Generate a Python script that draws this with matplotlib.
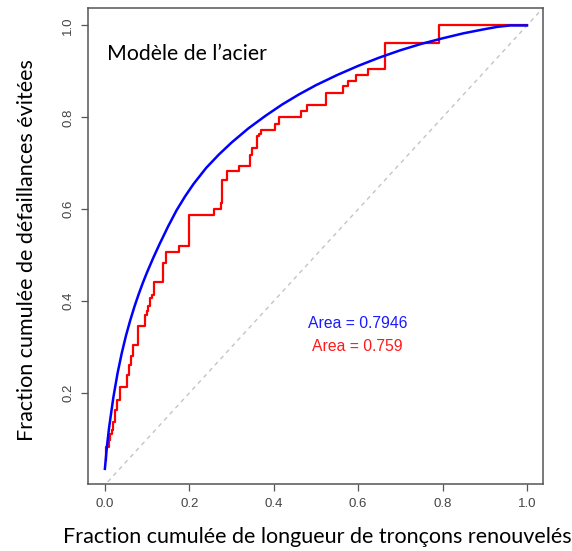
import matplotlib
matplotlib.use("Agg")
import matplotlib.pyplot as plt

# Blue curve (model curve)
blue_x = [0.0, 0.002, 0.005, 0.01, 0.02, 0.03, 0.04, 0.05, 0.06, 0.07, 0.08, 0.09,
          0.10, 0.115, 0.13, 0.15, 0.17, 0.19, 0.21, 0.24, 0.27, 0.30, 0.34, 0.38,
          0.42, 0.46, 0.50, 0.55, 0.60, 0.65, 0.70, 0.75, 0.80, 0.85, 0.90, 0.93,
          0.96, 1.0]
blue_y = [0.035, 0.055, 0.085, 0.125, 0.19, 0.243, 0.287, 0.325, 0.358, 0.388, 0.415, 0.44,
          0.463, 0.495, 0.525, 0.563, 0.598, 0.628, 0.655, 0.690, 0.719, 0.745, 0.776, 0.803,
          0.828, 0.850, 0.870, 0.892, 0.912, 0.930, 0.946, 0.960, 0.972, 0.983, 0.992, 0.997,
          1.0, 1.0]

# Red step curve (observed), jump positions and levels after each jump
red_x = [0.002, 0.003, 0.010, 0.013, 0.016, 0.020, 0.024, 0.028, 0.036, 0.052,
         0.058, 0.062, 0.066, 0.078, 0.095, 0.099, 0.103, 0.107, 0.112, 0.116,
         0.137, 0.144, 0.176, 0.200, 0.258, 0.276, 0.278, 0.290, 0.318, 0.344,
         0.348, 0.361, 0.366, 0.369, 0.403, 0.413, 0.464, 0.479, 0.524, 0.563,
         0.575, 0.596, 0.624, 0.664, 0.792, 1.000]
red_y = [0.055, 0.083, 0.098, 0.110, 0.120, 0.138, 0.162, 0.185, 0.214, 0.240,
         0.262, 0.280, 0.305, 0.345, 0.370, 0.378, 0.389, 0.407, 0.414, 0.441,
         0.483, 0.507, 0.521, 0.588, 0.601, 0.614, 0.664, 0.683, 0.695, 0.719,
         0.733, 0.759, 0.763, 0.772, 0.786, 0.800, 0.813, 0.826, 0.853, 0.868,
         0.880, 0.893, 0.906, 0.961, 1.000, 1.000]

x_ticks = [0.0, 0.2, 0.4, 0.6, 0.8, 1.0]
y_ticks = [0.2, 0.4, 0.6, 0.8, 1.0]
blue_area = "Area = 0.7946"
red_area = "Area = 0.759"
title_text = "Modèle de l\u2019acier"
xlabel = "Fraction cumulée de longueur de tronçons renouvelés"
ylabel = "Fraction cumulée de défaillances évitées"

W, H = 572, 551
fig = plt.figure(figsize=(W / 100, H / 100), dpi=100)
ax = fig.add_axes([88 / W, 1 - 484 / H, (543 - 88) / W, (484 - 8) / H])

ax.plot([-0.1, 1.1], [-0.1, 1.1], color="#c4c4c4", lw=1.0, dashes=(3, 3))
ax.plot(red_x, red_y, color="#ff0000", lw=1.6, drawstyle="steps-post")
ax.plot(blue_x, blue_y, color="#0000ff", lw=1.8)

ax.set_xlim(-0.04, 1.038)
ax.set_ylim(0.002, 1.038)
ax.set_xticks(x_ticks)
ax.set_xticklabels([f"{v:.1f}" for v in x_ticks], fontfamily="Liberation Sans",
                   fontsize=9.5, color="#444444")
ax.set_yticks(y_ticks)
ax.set_yticklabels([f"{v:.1f}" for v in y_ticks], fontfamily="Liberation Sans",
                   fontsize=9.5, color="#444444", rotation=90, va="center")
ax.tick_params(direction="out", length=5, width=0.9, color="#555555", pad=5)
for s in ax.spines.values():
    s.set_color("#555555")
    s.set_linewidth(1.1)

ax.text(0.005, 0.937, title_text, fontfamily="Lato", fontsize=15.3, ha="left",
        va="center", color="#000000")
ax.text(0.598, 0.351, blue_area, color="#1a1aff", fontfamily="Liberation Sans",
        fontsize=11.3, ha="center", va="center")
ax.text(0.598, 0.301, red_area, color="#ff1a1a", fontfamily="Liberation Sans",
        fontsize=11.3, ha="center", va="center")

fig.text(317.5 / W, 1 - 537 / H, xlabel, fontfamily="Lato", fontsize=15.5,
         ha="center", va="center")
fig.text(27 / W, 1 - 250 / H, ylabel, fontfamily="Lato", fontsize=15.5,
         ha="center", va="center", rotation=90)

fig.savefig("out.png", dpi=100)
